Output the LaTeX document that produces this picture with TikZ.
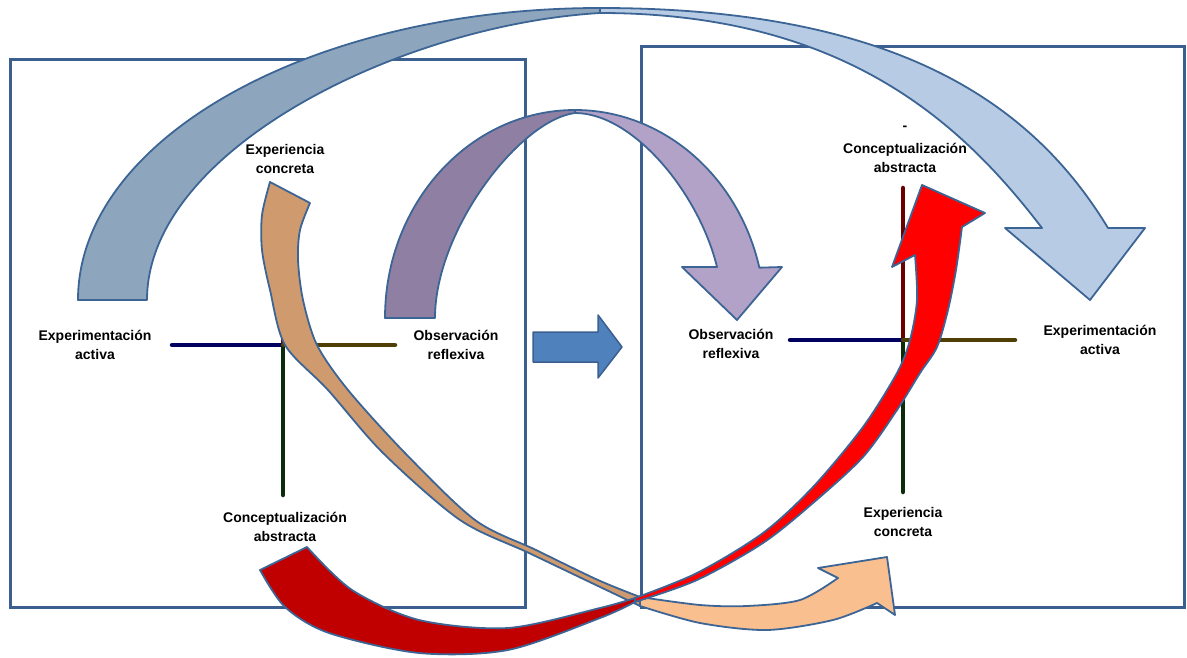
\documentclass[tikz,border=0pt]{standalone}
\usepackage{fontspec}
\setmainfont{Liberation Sans}
\definecolor{boxblue}{HTML}{3B5F8F}
\definecolor{edgeblue}{HTML}{3C6595}
\definecolor{midblue}{HTML}{4F81BD}
\definecolor{bigback}{HTML}{8EA6BD}
\definecolor{bigfront}{HTML}{B7CCE4}
\definecolor{lilaback}{HTML}{8F80A3}
\definecolor{lilafront}{HTML}{B3A2C8}
\definecolor{orangeback}{HTML}{CF9A6E}
\definecolor{orangefront}{HTML}{F9BF8F}
\definecolor{redback}{HTML}{C00000}
\definecolor{redfront}{HTML}{FF0000}
\definecolor{axnavy}{HTML}{000060}
\definecolor{axolive}{HTML}{4F3F05}
\definecolor{axred}{HTML}{6B0000}
\definecolor{axgreen}{HTML}{0B2B0B}
\begin{document}
\begin{tikzpicture}[x=1pt,y=-1pt,
	box/.style={draw=boxblue,line width=3pt},
	band/.style={draw=edgeblue,line width=1.8pt,line join=round},
	axis/.style={line width=4.5pt,line cap=round},
	lbl/.style={font=\fontsize{14}{19}\selectfont\bfseries,align=center,inner sep=0pt}]
	\useasboundingbox (0,0) rectangle (1187,658);
	% cuadros
	\draw[box](10,60) rectangle (525,607);
	\draw[box](641,47) rectangle (1184,607);
	% ejes izquierda
	\draw[axis,axred](283,322)--(283,345);
	\draw[axis,axgreen](283,345)--(283,495);
	\draw[axis,axnavy](172,345)--(283,345);
	\draw[axis,axolive](283,345)--(395,345);
	% ejes derecha
	\draw[axis,axred](903,188)--(903,340);
	\draw[axis,axgreen](903,340)--(903,492);
	\draw[axis,axnavy](790,340)--(903,340);
	\draw[axis,axolive](903,340)--(1015,340);
	% textos
	\node[lbl] (ecL) at (285,159) {Experiencia\\concreta};
	\node[lbl] (eaL) at (95,345) {Experimentación\\activa};
	\node[lbl] (orL) at (456,345) {Observación\\reflexiva};
	\node[lbl] (caL) at (285,527) {Conceptualización\\abstracta};
	\node[lbl] (guion) at (905,128) {-};
	\node[lbl] (caR) at (905,158) {Conceptualización\\abstracta};
	\node[lbl] (orR) at (731,344) {Observación\\reflexiva};
	\node[lbl] (eaR) at (1100,340) {Experimentación\\activa};
	\node[lbl] (ecR) at (903,522) {Experiencia\\concreta};
	% flecha central
	\filldraw[fill=midblue,draw=boxblue,line width=1.5pt,line join=round](533,332)--(598,332)--(598,315)--(622,347)--(598,378)--(598,362)--(533,362)--cycle;
	% flecha grande
	\filldraw[band,fill=bigback](78,300) arc[start angle=180,end angle=270,x radius=522,y radius=292]
		--(600,13) .. controls (400,25) and (147,150) .. (147,300)--cycle;
	\filldraw[band,fill=bigfront](600,8) .. controls (900,8) and (1034,106) .. (1108,228)
		--(1145,228)--(1090,300)--(1005,228)--(1042,228)
		.. controls (966,129) and (850,13) .. (600,13)--cycle;
	% flecha lila
	\filldraw[band,fill=lilaback](385,318) arc[start angle=180,end angle=270,x radius=190,y radius=208]
		--(575,113) .. controls (520,120) and (435,230) .. (435,318)--cycle;
	\filldraw[band,fill=lilafront](575,110) arc[start angle=270,end angle=346,x radius=190,y radius=208]
		--(782,267)--(737,320)--(682,267)--(717,267)
		.. controls (699,193) and (633,113) .. (575,113)--cycle;
	% flecha naranja (atras)
	\filldraw[band,fill=orangeback] plot[smooth] coordinates {(270,182) (262,215) (262,250) (270,290) (285,345) (328,390) (383,453) (460,520) (529,553) (598,586) (640,606)}
		-- plot[smooth] coordinates {(640,597) (598,580) (536,550) (475,520) (405,453) (348,390) (317,345) (303,300) (298,260) (300,230) (310,203)} -- cycle;
	% flecha roja (atras)
	\filldraw[band,fill=redback] plot[smooth] coordinates {(307,547) (352,590) (419,620) (508,628) (600,608) (635,598)}
		-- plot[smooth] coordinates {(635,602) (600,618) (508,650) (419,653) (329,633) (285,607) (260,570)} -- cycle;
	% flecha naranja (delante)
	\filldraw[band,fill=orangefront] plot[smooth] coordinates {(640,597) (700,605) (747,606) (800,600) (838,578)}
		--(818,568)--(887,557)--(895,615)
		-- plot[smooth] coordinates {(877,603) (833,620) (767,630) (700,623) (640,606)} -- cycle;
	% flecha roja (delante)
	\filldraw[band,fill=redfront] plot[smooth] coordinates {(635,598) (697,573) (763,533) (813,487) (863,427) (897,373) (910,340) (917,300) (915,255)}
		--(892,267)--(922,185)--(985,213)
		-- plot[smooth] coordinates {(962,227) (956,270) (948,310) (937,347) (920,373) (897,410) (863,457) (813,503) (763,543) (697,580) (635,602)} -- cycle;
\end{tikzpicture}
\end{document}
